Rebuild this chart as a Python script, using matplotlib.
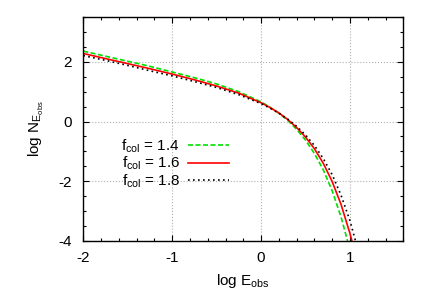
import matplotlib
matplotlib.use("Agg")
import matplotlib.pyplot as plt
from matplotlib.ticker import MultipleLocator

plt.rcParams['font.family'] = ['Liberation Sans', 'DejaVu Sans']
plt.rcParams['mathtext.default'] = 'regular'
plt.rcParams['axes.unicode_minus'] = False

# values
log_e_green = [-2, -1.75, -1.5, -1.25, -1, -0.75, -0.5, -0.25, 0, 0.1, 0.2, 0.3,
               0.4, 0.5, 0.6, 0.7, 0.8, 0.9, 1.0]
log_n_green = [2.36, 2.19, 2.02, 1.85, 1.66, 1.47, 1.26, 1.00, 0.66, 0.48, 0.28, 0.04,
               -0.26, -0.62, -1.07, -1.62, -2.32, -3.20, -4.30]

log_e_red = [-2, -1.75, -1.5, -1.25, -1, -0.75, -0.5, -0.25, 0, 0.1, 0.2, 0.3,
             0.4, 0.5, 0.6, 0.7, 0.8, 0.9, 1.0, 1.05]
log_n_red = [2.28, 2.11, 1.94, 1.77, 1.59, 1.40, 1.19, 0.95, 0.63, 0.47, 0.29, 0.07,
             -0.20, -0.52, -0.91, -1.40, -2.01, -2.78, -3.75, -4.32]

log_e_black = [-2, -1.75, -1.5, -1.25, -1, -0.75, -0.5, -0.25, 0, 0.1, 0.2, 0.3,
               0.4, 0.5, 0.6, 0.7, 0.8, 0.9, 1.0, 1.1]
log_n_black = [2.21, 2.05, 1.88, 1.70, 1.53, 1.34, 1.14, 0.90, 0.60, 0.45, 0.28, 0.08,
               -0.16, -0.45, -0.80, -1.24, -1.78, -2.47, -3.32, -4.41]

labels = ['f$_{col}$ = 1.4', 'f$_{col}$ = 1.6', 'f$_{col}$ = 1.8']

fig = plt.figure(figsize=(4.36, 3.05), dpi=100)
ax = fig.add_axes([0.191, 0.21, 0.734, 0.734])

ax.plot(log_e_green, log_n_green, color='#00e000', lw=1.2, ls=(0, (3, 1.5)), label=labels[0])
ax.plot(log_e_red, log_n_red, color='#ff0000', lw=1.2, ls='-', label=labels[1])
ax.plot(log_e_black, log_n_black, color='black', lw=1.2, ls=(0, (1, 2)), label=labels[2])

ax.set_xlim(-2, 1.6)
ax.set_ylim(-4, 3.5)
ax.xaxis.set_major_locator(MultipleLocator(1))
ax.xaxis.set_minor_locator(MultipleLocator(0.2))
ax.yaxis.set_major_locator(MultipleLocator(2))
ax.yaxis.set_minor_locator(MultipleLocator(0.5))
ax.tick_params(which='both', direction='in', top=True, right=True, labelsize=11)
ax.tick_params(which='major', length=4, width=0.8)
ax.tick_params(which='minor', length=2.5, width=0.8)
ax.tick_params(axis='x', pad=7)
ax.tick_params(axis='y', pad=8)
ax.grid(True, which='major', color='#b0b0b0', ls=':', lw=0.8)
for s in ax.spines.values():
    s.set_linewidth(1.0)

ax.set_xlabel('log E$_{obs}$', fontsize=11, labelpad=5)
ax.set_ylabel('log N$_{E_{obs}}$', fontsize=11, labelpad=9)

ax.legend(loc='upper left', bbox_to_anchor=(0.10, 0.49), frameon=False, markerfirst=False,
          handlelength=2.7, fontsize=11, labelspacing=0.02, handletextpad=0.5,
          borderaxespad=0)

fig.savefig('out.png', dpi=100)
